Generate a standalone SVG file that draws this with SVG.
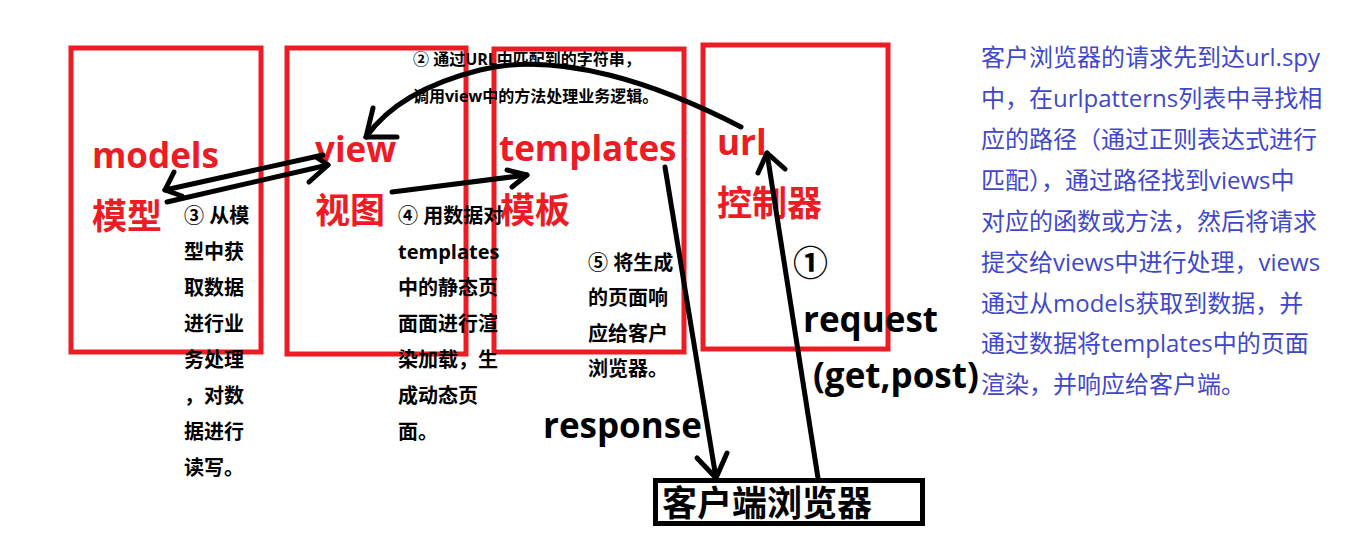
<svg xmlns="http://www.w3.org/2000/svg" width="1360" height="544" viewBox="0 0 1360 544">
<style>
.box{fill:none;stroke:#ed1c24;stroke-width:5}
.big{font-family:'Open Sans','Noto Sans CJK SC',sans-serif;font-weight:bold;font-size:35px}
.red{fill:#ed1c24}
.blk{fill:#000}
.note{font-family:'Open Sans','Noto Sans CJK SC',sans-serif;font-weight:bold;font-size:20px;fill:#000}
.top{font-family:'Open Sans','Noto Sans CJK SC',sans-serif;font-weight:bold;font-size:16px;fill:#000}
.desc{font-family:'Open Sans','Noto Sans CJK SC',sans-serif;font-size:24px;fill:#3f48cc}
.ln{fill:none;stroke:#000;stroke-width:5;stroke-linecap:round;stroke-linejoin:round}
</style>
<rect width="1360" height="544" fill="#fff"/>
<g id="models">
<rect class="box" x="71" y="48" width="190" height="304"/>
<text class="big red" x="92" y="168">models</text>
<text class="big red" x="92" y="229">模型</text>
</g>
<g id="view">
<rect class="box" x="287" y="48" width="179" height="306"/>
<text class="big red" x="315" y="162">view</text>
<text class="big red" x="315" y="223">视图</text>
</g>
<g id="templates">
<rect class="box" x="494" y="49" width="190" height="303"/>
<text class="big red" x="499" y="161">templates</text>
<text class="big red" x="500" y="223">模板</text>
</g>
<g id="url">
<rect class="box" x="703" y="45" width="185" height="304"/>
<text class="big red" x="717" y="155">url</text>
<text class="big red" x="717" y="216">控制器</text>
</g>
<g id="client">
<rect x="655.5" y="480.5" width="267" height="43" fill="none" stroke="#000" stroke-width="5"/>
<text class="big blk" x="662" y="516">客户端浏览器</text>
</g>
<g id="connectors">
<path class="ln" d="M741,127 C660,85 560,50 480,70 C420,85 385,110 366,137"/>
<path class="ln" d="M373,108 L366,137 L397,137"/>
<path class="ln" d="M323,155 L165,190"/>
<path class="ln" d="M174,172 L165,190 L182,196"/>
<path class="ln" d="M167,202 L328,165"/>
<path class="ln" d="M316,157 L328,165 L309,182"/>
<path class="ln" d="M392,192 L527,175"/>
<path class="ln" d="M507,170 L527,175 L512,187"/>
<path class="ln" d="M665,167 L716,478"/>
<path class="ln" d="M697,458 L716,478 L727,453"/>
<path class="ln" d="M818,478 L767,153"/>
<path class="ln" d="M758,173 L767,153 L785,169"/>
</g>
<g id="labels">
<text class="top" x="413" y="65">② 通过URL中匹配到的字符串，</text>
<text class="top" x="413" y="102">调用view中的方法处理业务逻辑。</text>
<text class="note" x="184" y="223">③ 从模</text>
<text class="note" x="184" y="259">型中获</text>
<text class="note" x="184" y="295">取数据</text>
<text class="note" x="184" y="331">进行业</text>
<text class="note" x="184" y="367">务处理</text>
<text class="note" x="184" y="403">，对数</text>
<text class="note" x="184" y="439">据进行</text>
<text class="note" x="184" y="475">读写。</text>
<text class="note" x="398" y="223">④ 用数据对</text>
<text class="note" x="398" y="259">templates</text>
<text class="note" x="398" y="295">中的静态页</text>
<text class="note" x="398" y="331">面面进行渲</text>
<text class="note" x="398" y="367">染加载，生</text>
<text class="note" x="398" y="403">成动态页</text>
<text class="note" x="398" y="439">面。</text>
<text class="note" x="588" y="270">⑤ 将生成</text>
<text class="note" x="588" y="305">的页面响</text>
<text class="note" x="588" y="341">应给客户</text>
<text class="note" x="588" y="376">浏览器。</text>
<text class="big blk" x="793" y="276">①</text>
<text class="big blk" x="803" y="332">request</text>
<text class="big blk" x="813" y="388">(get,post)</text>
<text class="big blk" x="543" y="438">response</text>
</g>
<g id="description">
<text class="desc" x="981" y="66">客户浏览器的请求先到达url.spy</text>
<text class="desc" x="981" y="107">中，在urlpatterns列表中寻找相</text>
<text class="desc" x="981" y="148">应的路径（通过正则表达式进行</text>
<text class="desc" x="981" y="189">匹配），通过路径找到views中</text>
<text class="desc" x="981" y="230">对应的函数或方法，然后将请求</text>
<text class="desc" x="981" y="271">提交给views中进行处理，views</text>
<text class="desc" x="981" y="312">通过从models获取到数据，并</text>
<text class="desc" x="981" y="352">通过数据将templates中的页面</text>
<text class="desc" x="981" y="393">渲染，并响应给客户端。</text>
</g>
</svg>
